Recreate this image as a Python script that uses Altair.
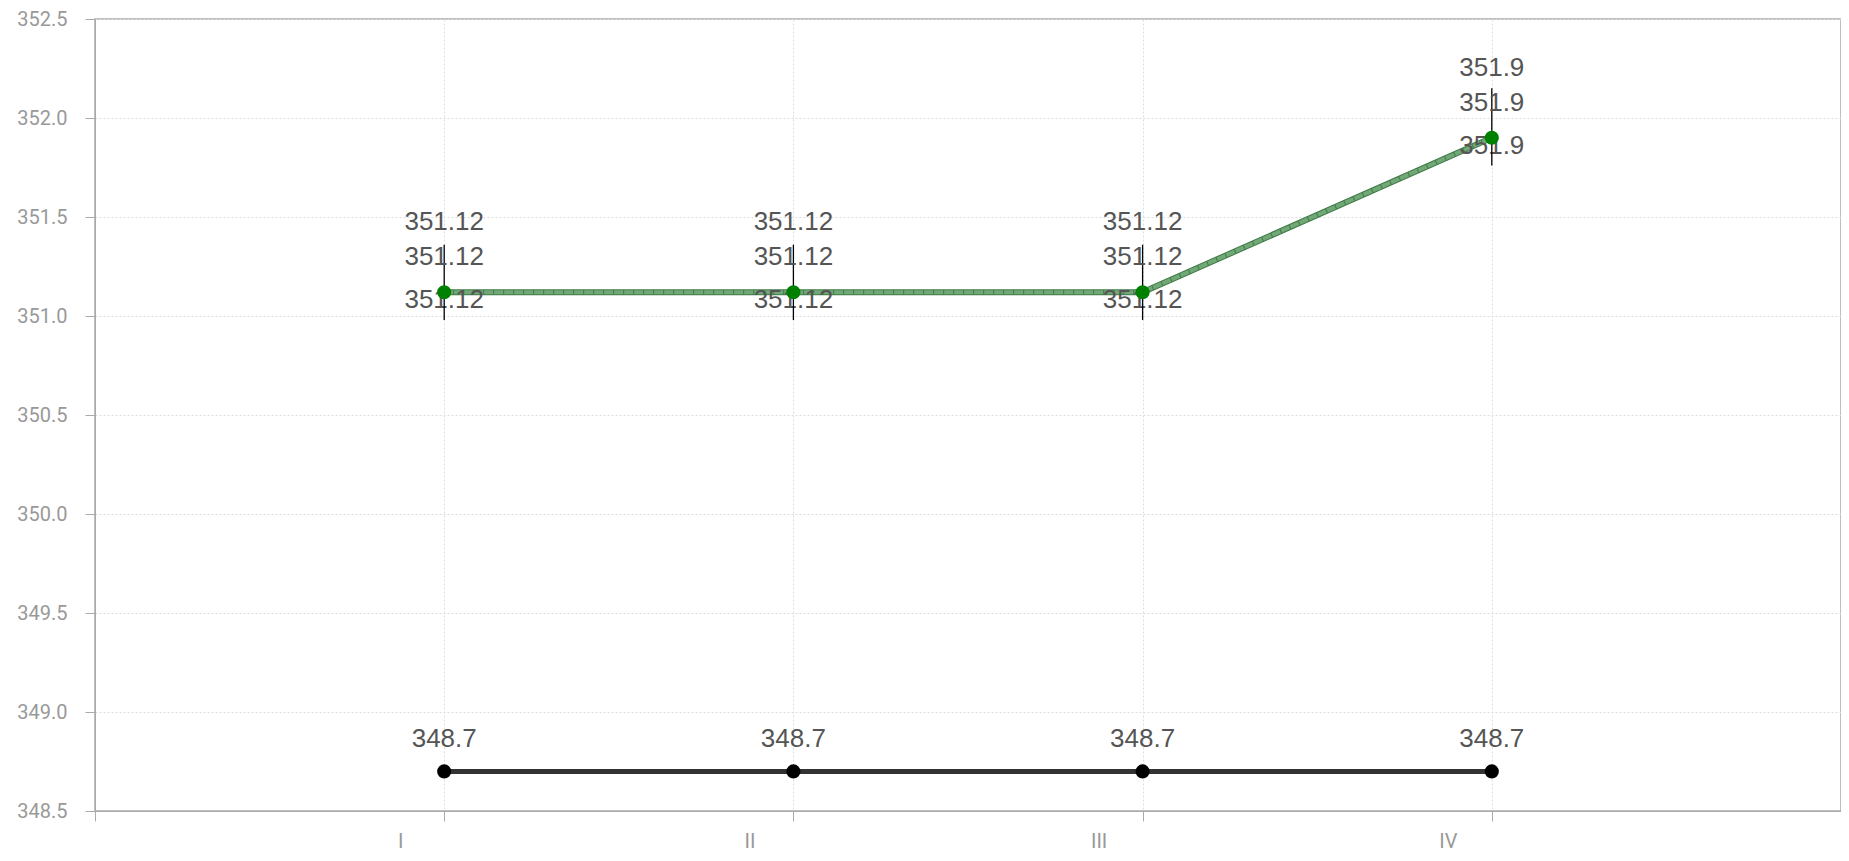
import altair as alt
import pandas as pd

categories = ["I", "II", "III", "IV"]
positions = [1, 2, 3, 4]
green_values = [351.12, 351.12, 351.12, 351.9]
green_err_low = [350.98, 350.98, 350.98, 351.76]
green_err_high = [351.36, 351.36, 351.36, 352.15]
black_values = [348.7, 348.7, 348.7, 348.7]

df = pd.DataFrame({
    "cat": categories,
    "pos": positions,
    "green": green_values,
    "lo": green_err_low,
    "hi": green_err_high,
    "black": black_values,
})

label_expr = "datum.value == 1 ? 'I' : datum.value == 2 ? 'II' : datum.value == 3 ? 'III' : datum.value == 4 ? 'IV' : ''"

x_enc = alt.X(
    "pos:Q",
    scale=alt.Scale(domain=[0, 5], nice=False, zero=False),
    axis=alt.Axis(
        values=[0, 1, 2, 3, 4, 5],
        labelExpr=label_expr,
        labelOffset=-44,
        labelPadding=10,
        title=None,
        grid=True,
        gridDash=[2, 2],
        gridColor="#dddddd",
        domainColor="#aaaaaa",
        tickColor="#aaaaaa",
        tickSize=10,
        labelColor="#999999",
        labelFont="Roboto",
        labelFontSize=20,
    ),
)

def yq(field):
    return alt.Y(
        f"{field}:Q",
        scale=alt.Scale(domain=[348.5, 352.5], nice=False, zero=False),
        axis=alt.Axis(
            values=[348.5, 349.0, 349.5, 350.0, 350.5, 351.0, 351.5, 352.0, 352.5],
            format=".1f",
            title=None,
            grid=True,
            gridDash=[2, 2],
            gridColor="#dddddd",
            domainColor="#aaaaaa",
            tickColor="#aaaaaa",
            tickSize=10,
            labelPadding=18,
            labelColor="#999999",
            labelFont="Roboto",
            labelFontSize=20,
        ),
    )

base = alt.Chart(df)

green_outer = base.mark_line(color="#3e7b46", strokeWidth=6).encode(x=x_enc, y=yq("green"))
green_inner = base.mark_line(color="#72a877", strokeWidth=4, strokeDash=[9, 1]).encode(x=x_enc, y=yq("green"))
black_line = base.mark_line(color="#333333", strokeWidth=5).encode(x=x_enc, y=yq("black"))

err = base.mark_rule(color="#000000", strokeWidth=1.3).encode(
    x=x_enc, y=yq("lo"), y2="hi:Q"
)

green_pts = base.mark_point(filled=True, shape="circle", size=200, color="#008000", opacity=1).encode(x=x_enc, y=yq("green"))
black_pts = base.mark_point(filled=True, shape="circle", size=200, color="#000000", opacity=1).encode(x=x_enc, y=yq("black"))

def labels(field, dy, fmt):
    return base.mark_text(
        dy=dy, fontSize=26, color="#555555", font="Liberation Sans", baseline="middle", align="center"
    ).encode(x=x_enc, y=yq(field), text=alt.Text(f"{field}:Q", format=fmt))

green_fmt = ""
lab1 = labels("green", 8, green_fmt)
lab2 = labels("green", -35, green_fmt)
lab3 = labels("green", -70, green_fmt)
lab_black = labels("black", -32, "")

chart = alt.layer(
    black_line, green_outer, green_inner, lab1, err, green_pts, black_pts, lab2, lab3, lab_black
).properties(
    width=1746,
    height=792,
    padding={"left": 87, "top": 11, "right": 0, "bottom": 40},
    autosize=alt.AutoSizeParams(type="none"),
).configure_view(
    stroke="#aaaaaa", strokeWidth=1.5
)

chart.save("out.html", embed_options={"renderer": "svg", "actions": False})
